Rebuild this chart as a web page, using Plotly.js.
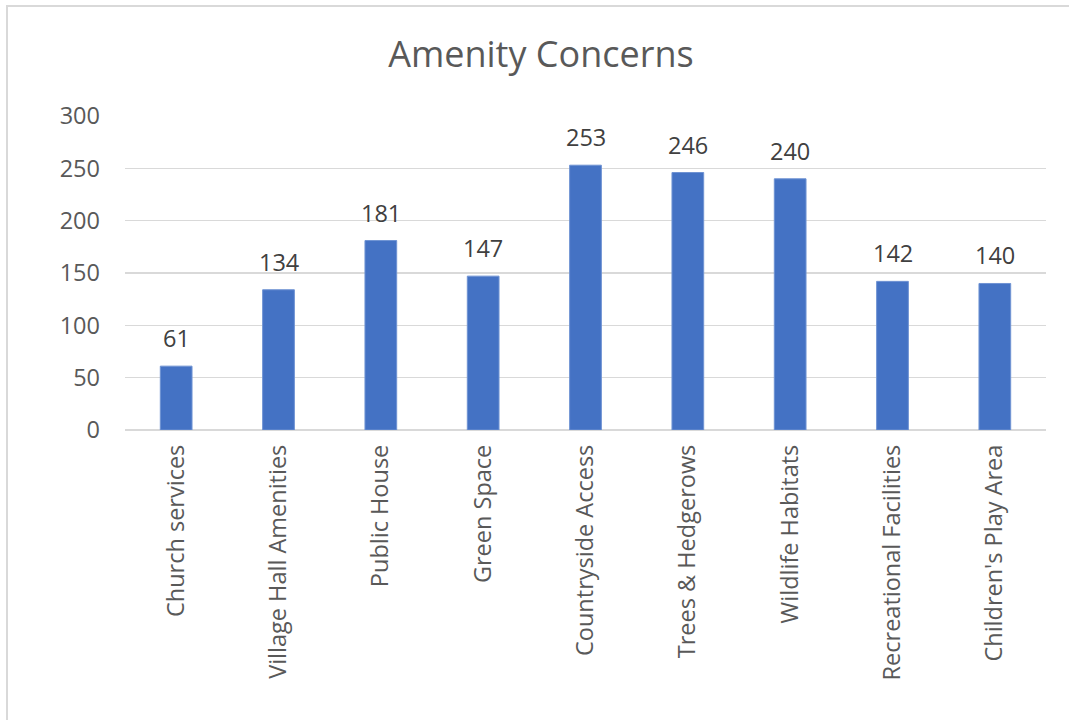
<!DOCTYPE html>
<html>
<head>
<meta charset="utf-8">
<script src="https://cdn.plot.ly/plotly-3.0.1.min.js"></script>
<style>
  html, body { margin:0; padding:0; background:#fff; overflow:hidden; }
  #wrap { position:relative; width:1069px; height:720px; }
  #chart { position:absolute; left:0; top:0; width:1069px; height:720px; }
  #frame { position:absolute; left:6px; top:5px; width:1100px; height:800px; border:2px solid #d9d9d9; pointer-events:none; box-sizing:border-box; }
</style>
</head>
<body>
<div id="wrap"><div id="chart"></div><div id="frame"></div></div>
<script>
const categories = ["Church services", "Village Hall Amenities", "Public House", "Green Space", "Countryside Access", "Trees & Hedgerows", "Wildlife Habitats", "Recreational Facilities", "Children's Play Area"];
const values = [61, 134, 181, 147, 253, 246, 240, 142, 140];
const yTicks = [0, 50, 100, 150, 200, 250, 300];
const chartTitle = "Amenity Concerns";

const FONT = "Open Sans, Noto Sans, sans-serif";

const trace = {
  type: "bar",
  x: categories,
  y: values,
  marker: { color: "#4472C4", line: { color: "#6f93d3", width: 1 } },
  hoverinfo: "x+y"
};

const annotations = categories.map((c, i) => ({
  x: c, y: values[i], xref: "x", yref: "y",
  text: String(values[i]), showarrow: false,
  yanchor: "bottom", yshift: 10,
  font: { family: FONT, size: 23.5, color: "#404040" }
}));

const layout = {
  width: 1069, height: 720,
  margin: { l: 125, r: 23, t: 116, b: 290 },
  paper_bgcolor: "#ffffff", plot_bgcolor: "#ffffff",
  title: { text: chartTitle, x: 0.506, xanchor: "center", y: 0.924, yanchor: "middle",
           font: { family: FONT, size: 36, color: "#595959" } },
  bargap: 0.69,
  showlegend: false,
  xaxis: {
    type: "category", tickangle: -90, showgrid: false, showline: false, ticks: "",
    tickfont: { family: FONT, size: 23.5, color: "#595959" }, ticklabelstandoff: 9,
    zeroline: false
  },
  yaxis: {
    range: [0, 300], tickvals: yTicks, ticktext: yTicks.map(String),
    showgrid: true, gridcolor: "#d9d9d9", gridwidth: 1.5,
    zeroline: true, zerolinecolor: "#d9d9d9", zerolinewidth: 1.5,
    showline: false, ticks: "", ticklabelstandoff: 24,
    tickfont: { family: FONT, size: 23.5, color: "#595959" }
  },
  annotations: annotations
};

Plotly.newPlot("chart", [trace], layout, { displayModeBar: false, staticPlot: true });
</script>
</body>
</html>
